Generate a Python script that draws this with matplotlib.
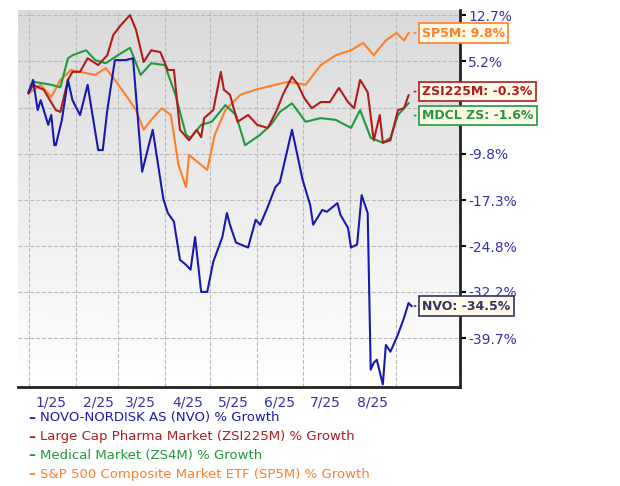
import numpy as np
import matplotlib
matplotlib.use("Agg")
import matplotlib.pyplot as plt

nvo_days = [0,3,6,8,13,15,17,18,22,26,29,34,39,46,49,52,57,64,69,75,82,89,92,96,100,104,107,110,114,118,122,128,131,133,137,145,150,153,158,163,166,174,181,186,188,194,197,204,206,211,213,217,220,224,226,228,230,234,236,239,241,244,248,251,253]
nvo_vals = [0.2,2.2,-2.7,-1.1,-5.1,-3.5,-8.4,-8.4,-4.3,2.2,-1.1,-3.5,1.4,-9.2,-9.2,-2.7,5.4,5.4,5.7,-12.7,-5.9,-17.1,-19.4,-20.8,-27.0,-27.8,-28.6,-23.3,-32.2,-32.2,-27.3,-23.3,-19.4,-21.3,-24.2,-25.0,-20.5,-21.3,-18.4,-15.2,-14.4,-5.9,-14.0,-18.1,-21.3,-18.9,-19.2,-17.8,-19.7,-21.8,-25.0,-24.5,-16.5,-19.4,-44.8,-43.7,-43.2,-47.2,-40.8,-41.9,-40.8,-39.1,-36.4,-34.0,-34.5]

red_days = [0,3,10,18,21,26,29,34,39,46,52,56,61,64,67,71,76,81,87,92,96,100,106,111,114,116,122,127,129,133,138,145,151,158,164,168,174,178,182,187,193,199,205,211,215,219,224,228,232,234,239,244,248,251]
red_vals = [0.0,1.4,0.6,-2.7,-3.0,2.2,3.5,3.5,5.7,4.6,6.2,9.5,11.1,11.9,12.7,10.3,5.1,7.0,6.7,3.8,3.8,-5.9,-7.6,-5.9,-7.1,-4.0,-2.7,3.5,0.6,-0.2,-4.6,-3.5,-5.1,-5.6,-2.7,-0.2,2.7,1.4,-0.7,-2.4,-1.4,-1.4,0.9,-1.4,-2.4,2.2,0.2,-7.6,-3.5,-8.0,-7.6,-2.7,-2.4,-0.3]

grn_days = [0,3,15,21,26,29,38,44,51,59,67,74,81,90,97,104,107,114,121,130,137,143,153,160,166,174,183,193,203,213,219,226,234,239,244,251]
grn_vals = [0.2,1.9,1.4,1.0,5.7,6.2,7.0,5.4,4.9,6.2,7.4,3.0,4.9,4.6,-0.2,-6.7,-7.2,-5.1,-4.6,-1.9,-3.5,-8.4,-6.7,-5.1,-3.0,-1.6,-4.6,-4.0,-4.3,-5.6,-2.7,-7.2,-8.0,-7.2,-3.5,-1.6]

org_days = [0,8,15,21,28,34,44,51,57,64,71,76,81,88,94,99,104,106,110,118,123,130,140,150,163,172,183,193,203,213,221,228,236,243,248,251]
org_vals = [0.0,1.4,-0.6,2.2,3.8,3.5,3.0,4.1,2.2,-0.2,-2.7,-5.9,-4.3,-2.4,-3.5,-11.6,-15.2,-10.0,-10.8,-12.4,-6.7,-2.7,-0.2,0.6,1.4,1.9,1.4,4.6,6.2,7.0,8.2,6.2,8.6,9.8,8.6,9.8]

yticks = [12.7, 5.2, -2.3, -9.8, -17.3, -24.8, -32.2, -39.7]
month_starts = [0,31,59,90,120,151,181,212,243]
month_labels = ["1/25","2/25","3/25","4/25","5/25","6/25","7/25","8/25"]

C_NVO, C_RED, C_GRN, C_ORG = "#1a1aaa", "#b01c1c", "#1f9a3c", "#ff7f2a"

fig = plt.figure(figsize=(6.2, 4.86), dpi=100)
ax = fig.add_axes([0.029, 0.204, 0.713, 0.775])
xmin, xmax, ymin, ymax = -7, 285, -47.6, 13.5
grad = np.linspace(1.0, 0.85, 256).reshape(-1, 1)
ax.imshow(grad, extent=[xmin, xmax, ymin, ymax], origin="lower", aspect="auto", cmap="gray", vmin=0, vmax=1, zorder=0)
ax.set_xlim(xmin, xmax); ax.set_ylim(ymin, ymax)

for d, v, c in [(org_days, org_vals, C_ORG), (grn_days, grn_vals, C_GRN), (red_days, red_vals, C_RED), (nvo_days, nvo_vals, C_NVO)]:
    ax.plot(d, v, color=c, lw=1.5, zorder=3)

ax.set_xticks(month_starts)
ax.set_xticklabels([])
ax.set_xticks([m + 15 for m in month_starts[:-1]], minor=True)
ax.set_xticklabels(month_labels, minor=True, fontsize=10, color="#3333aa")
ax.tick_params(axis="x", which="both", length=0, pad=6)
ax.yaxis.tick_right()
ax.set_yticks(yticks)
ax.set_yticklabels([f"{t}%" if t != -2.3 else "" for t in yticks], fontsize=10, color="#3333aa")
ax.tick_params(axis="y", length=4, width=1.5, pad=2)
ax.grid(True, which="major", ls="--", color="#bbbbbb", lw=0.8)
for s in ["top", "left"]:
    ax.spines[s].set_visible(False)
for s in ["right", "bottom"]:
    ax.spines[s].set_linewidth(2)
    ax.spines[s].set_color("#222222")

def tag(y, text, c):
    ax.annotate(text, xy=(253, y), xytext=(260, y), fontsize=9, fontweight="bold", color=c,
                va="center", ha="left", zorder=5,
                bbox=dict(boxstyle="square,pad=0.25", fc="#fffbe8", ec=c, lw=1.2),
                arrowprops=dict(arrowstyle="-", color=c, lw=1.2), annotation_clip=False)

tag(9.8, "SP5M: 9.8%", C_ORG)
tag(0.3, "ZSI225M: -0.3%", C_RED)
tag(-3.6, "MDCL ZS: -1.6%", C_GRN)
tag(-34.5, "NVO: -34.5%", "#333366")

leg = [("NOVO-NORDISK AS (NVO) % Growth", C_NVO),
       ("Large Cap Pharma Market (ZSI225M) % Growth", C_RED),
       ("Medical Market (ZS4M) % Growth", C_GRN),
       ("S&P 500 Composite Market ETF (SP5M) % Growth", C_ORG)]
for i, (t, c) in enumerate(leg):
    y = 1 - (418 + i * 18.7) / 486
    fig.text(0.045, y, "–", color=c, fontsize=10, fontweight="bold", va="center")
    fig.text(0.065, y, t, color=c, fontsize=9.5, va="center")

fig.savefig("out.png", dpi=100)
